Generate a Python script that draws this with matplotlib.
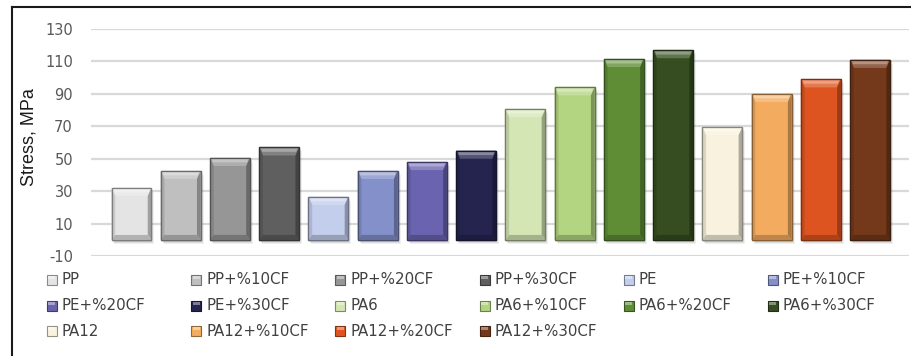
import matplotlib
matplotlib.use("Agg")
import matplotlib.pyplot as plt
import numpy as np
from matplotlib.patches import Polygon, Rectangle
from matplotlib.lines import Line2D
from matplotlib.colors import to_rgb

# Tensile stress of neat and carbon-fibre filled polymers
materials = ["PP", "PP+%10CF", "PP+%20CF", "PP+%30CF",
             "PE", "PE+%10CF", "PE+%20CF", "PE+%30CF",
             "PA6", "PA6+%10CF", "PA6+%20CF", "PA6+%30CF",
             "PA12", "PA12+%10CF", "PA12+%20CF", "PA12+%30CF"]
stress = [32, 42.5, 50.5, 57,
          26.5, 42.5, 48, 55,
          80.5, 94, 111.5, 117,
          69.5, 90, 99, 111]
colors = ["#e4e4e4", "#bfbfbf", "#969696", "#5f5f5f",
          "#c3cdec", "#8490c9", "#6a63b0", "#25244f",
          "#d3e6b3", "#b3d581", "#5e8d36", "#354d20",
          "#f8f2de", "#f3ac5f", "#de5420", "#74391a"]
y_ticks = [-10, 10, 30, 50, 70, 90, 110, 130]
y_label = "Stress, MPa"

W, H = 912, 356
fig = plt.figure(figsize=(W / 100, H / 100), dpi=100)
ax = fig.add_axes([91 / W, 1 - 256 / H, 818 / W, 227 / H])

n = len(stress)
xpos = np.arange(n)
width = 0.81
ax.set_xlim(-0.822, n - 1 + 0.79)
ax.set_ylim(-10, 130)


def shade(c, f):
    r = np.array(to_rgb(c))
    if f >= 0:
        return tuple(r + (1 - r) * f)
    return tuple(r * (1 + f))


# bevel sizes in data units
bx = 0.075
by_top = 5.0
by_bot = 3.0

for x, v, c in zip(xpos, stress, colors):
    L, R = x - width / 2, x + width / 2
    # soft drop shadow
    for k, a in enumerate([0.10, 0.08, 0.06]):
        d = 0.02 * (k + 1)
        ax.add_patch(Rectangle((L + d, -1.2 - k * 0.8), width, v + 0.4,
                               facecolor="black", alpha=a, lw=0, zorder=2))
    ax.bar(x, v, width=width, color=c, edgecolor=shade(c, -0.45),
           linewidth=0.9, zorder=3)
    # bevelled faces: a two-step highlight on top, darker sides and foot
    top = Polygon([(L, v), (R, v), (R - bx, v - by_top), (L + bx, v - by_top)],
                  closed=True, facecolor=shade(c, 0.22), lw=0, zorder=4)
    top_hi = Polygon([(L + bx * 0.5, v - by_top * 0.15), (R - bx * 0.5, v - by_top * 0.15),
                      (R - bx * 0.8, v - by_top * 0.55), (L + bx * 0.8, v - by_top * 0.55)],
                     closed=True, facecolor=shade(c, 0.45), lw=0, zorder=4)
    left = Polygon([(L, v), (L + bx, v - by_top), (L + bx, by_bot), (L, 0)],
                   closed=True, facecolor=shade(c, -0.12), lw=0, zorder=4)
    right = Polygon([(R, v), (R - bx, v - by_top), (R - bx, by_bot), (R, 0)],
                    closed=True, facecolor=shade(c, -0.3), lw=0, zorder=4)
    bot = Polygon([(L, 0), (R, 0), (R - bx, by_bot), (L + bx, by_bot)],
                  closed=True, facecolor=shade(c, -0.22), lw=0, zorder=4)
    for p in (top, top_hi, left, right, bot):
        ax.add_patch(p)
    ax.add_patch(Rectangle((L, 0), width, v, fill=False,
                           edgecolor=shade(c, -0.45), lw=0.9, zorder=5))

ax.set_yticks(y_ticks)
ax.set_yticklabels([str(t) for t in y_ticks], fontsize=10.5,
                   color="#595959", family="DejaVu Sans")
ax.set_xticks([])
ax.tick_params(axis="y", length=0, pad=13)
ax.grid(axis="y", color="#d9d9d9", linewidth=1.6, zorder=0)
ax.set_axisbelow(True)
for s in ax.spines.values():
    s.set_visible(False)

fig.text(29 / W, 1 - 137 / H, y_label, rotation=90, ha="center", va="center",
         fontsize=13, family="Liberation Sans", color="#1a1a1a")

# legend, filled row by row
x0, dx = 47, 144.2
y0, dy = 280, 25.5
for i, (lab, c) in enumerate(zip(materials, colors)):
    r, col = divmod(i, 6)
    px = x0 + col * dx
    py = y0 + r * dy
    sq = Rectangle((px / W, 1 - (py + 5) / H), 10 / W, 10 / H,
                   transform=fig.transFigure, facecolor=c,
                   edgecolor=shade(c, -0.4), lw=0.8)
    fig.add_artist(sq)
    hl = Rectangle(((px + 1.5) / W, 1 - (py - 1) / H), 7 / W, 3 / H,
                   transform=fig.transFigure, facecolor=shade(c, 0.4), lw=0)
    fig.add_artist(hl)
    fig.text((px + 15) / W, 1 - py / H, lab, ha="left", va="center",
             fontsize=10.8, family="DejaVu Sans", color="#404040")

# outer frame (left and top edges)
fig.add_artist(Line2D([12 / W, 12 / W], [0, 1 - 7 / H], transform=fig.transFigure,
                      color="#1a1a1a", lw=1.5))
fig.add_artist(Line2D([12 / W, 1], [1 - 7 / H, 1 - 7 / H], transform=fig.transFigure,
                      color="#1a1a1a", lw=1.5))

fig.savefig("out.png", dpi=100, facecolor="white")
